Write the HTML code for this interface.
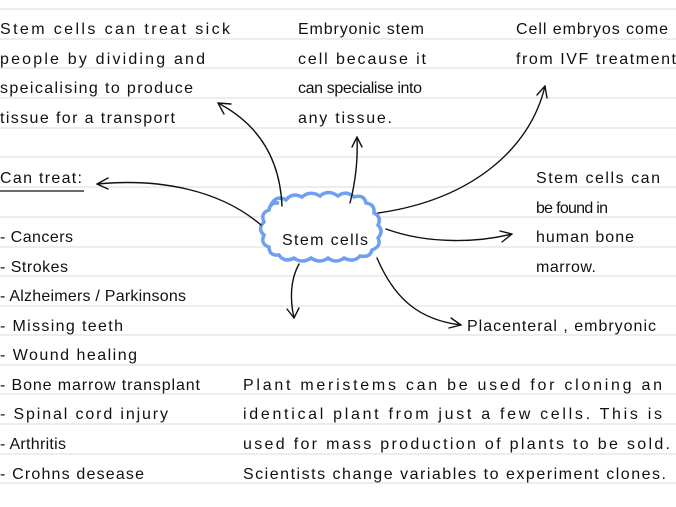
<!DOCTYPE html>
<html><head><style>
html,body{margin:0;padding:0;background:#fff;}
svg{display:block;}
text{font-family:"Liberation Sans",sans-serif;font-size:16px;fill:#111;}
</style></head><body>
<svg width="676" height="507" viewBox="0 0 676 507">
<g stroke="#e2e2e2" stroke-width="1.2">
<line x1="0" x2="676" y1="9" y2="9"/><line x1="0" x2="676" y1="39" y2="39"/><line x1="0" x2="676" y1="68" y2="68"/><line x1="0" x2="676" y1="98" y2="98"/><line x1="0" x2="676" y1="128" y2="128"/><line x1="0" x2="676" y1="157" y2="157"/><line x1="0" x2="676" y1="187" y2="187"/><line x1="0" x2="676" y1="217" y2="217"/><line x1="0" x2="676" y1="247" y2="247"/><line x1="0" x2="676" y1="276" y2="276"/><line x1="0" x2="676" y1="306" y2="306"/><line x1="0" x2="676" y1="335" y2="335"/><line x1="0" x2="676" y1="365" y2="365"/><line x1="0" x2="676" y1="394" y2="394"/><line x1="0" x2="676" y1="424" y2="424"/><line x1="0" x2="676" y1="454" y2="454"/><line x1="0" x2="676" y1="483" y2="483"/>
</g>
<g>
<text x="0" y="34" textLength="230" lengthAdjust="spacing">Stem cells can treat sick</text>
<text x="0" y="64" textLength="205" lengthAdjust="spacing">people by dividing and</text>
<text x="0" y="93" textLength="193" lengthAdjust="spacing">speicalising to produce</text>
<text x="0" y="123" textLength="175" lengthAdjust="spacing">tissue for a transport</text>
<text x="298" y="34" textLength="126" lengthAdjust="spacing">Embryonic stem</text>
<text x="298" y="64" textLength="128" lengthAdjust="spacing">cell because it</text>
<text x="298" y="93" textLength="124" lengthAdjust="spacing">can specialise into</text>
<text x="298" y="123" textLength="94" lengthAdjust="spacing">any tissue.</text>
<text x="516" y="34" textLength="152" lengthAdjust="spacing">Cell embryos come</text>
<text x="516" y="64" textLength="160" lengthAdjust="spacing">from IVF treatment</text>
<text x="536" y="183" textLength="124" lengthAdjust="spacing">Stem cells can</text>
<text x="536" y="213" textLength="72" lengthAdjust="spacing">be found in</text>
<text x="536" y="242" textLength="98" lengthAdjust="spacing">human bone</text>
<text x="536" y="272" textLength="60" lengthAdjust="spacing">marrow.</text>
<text x="0" y="183" textLength="82" lengthAdjust="spacing">Can treat:</text>
<line x1="0" x2="84" y1="191" y2="191" stroke="#111" stroke-width="1.3"/>
<text x="0" y="242" textLength="73" lengthAdjust="spacing">- Cancers</text>
<text x="0" y="272" textLength="68" lengthAdjust="spacing">- Strokes</text>
<text x="0" y="301" textLength="186" lengthAdjust="spacing">- Alzheimers / Parkinsons</text>
<text x="0" y="331" textLength="123" lengthAdjust="spacing">- Missing teeth</text>
<text x="0" y="360" textLength="137" lengthAdjust="spacing">- Wound healing</text>
<text x="0" y="390" textLength="200" lengthAdjust="spacing">- Bone marrow transplant</text>
<text x="0" y="419" textLength="168" lengthAdjust="spacing">- Spinal cord injury</text>
<text x="0" y="449" textLength="66" lengthAdjust="spacing">- Arthritis</text>
<text x="0" y="479" textLength="144" lengthAdjust="spacing">- Crohns desease</text>
<text x="243" y="390" textLength="419" lengthAdjust="spacing">Plant meristems can be used for cloning an</text>
<text x="243" y="419" textLength="419" lengthAdjust="spacing">identical plant from just a few cells. This is</text>
<text x="243" y="449" textLength="427" lengthAdjust="spacing">used for mass production of plants to be sold.</text>
<text x="243" y="479" textLength="423" lengthAdjust="spacing">Scientists change variables to experiment clones.</text>
<text x="467" y="331" textLength="189" lengthAdjust="spacing">Placenteral , embryonic</text>
</g>
<path d="M272 203 q5 -8 14 -3 q6 -8 16 -3 q8 -7 18 -1 q8 -7 18 0 q8 -6 16 1 q10 -3 12 6 q9 1 8 10 q8 4 4 12 q6 6 0 13 q4 8 -6 12 q-2 8 -12 6 q-6 7 -16 2 q-8 6 -16 0 q-8 6 -17 0 q-9 6 -17 0 q-10 5 -15 -3 q-10 1 -10 -8 q-9 -3 -5 -12 q-7 -6 0 -13 q-4 -9 5 -12 q1 -8 10 -7z" fill="#fff" stroke="#6fa0ef" stroke-width="3.5"/>
<text x="282" y="245" textLength="86" lengthAdjust="spacing">Stem cells</text>
<g fill="none" stroke="#111" stroke-width="1.4" stroke-linecap="round">
<path d="M282 206 C280 160 260 125 218 103"/><path d="M218 103 l13 1 M218 103 l6 11"/>
<path d="M261 225 C220 190 160 178 97 184"/><path d="M97 184 l11 -6 M97 184 l11 5"/>
<path d="M350 203 C356 180 358 160 357 137"/><path d="M357 137 l-5 10 M357 137 l5 10"/>
<path d="M378 213 C470 200 530 150 545 86"/><path d="M545 86 l-8 9 M545 86 l2 12"/>
<path d="M386 229 C430 245 480 242 512 234"/><path d="M512 234 l-12 -3 M512 234 l-10 8"/>
<path d="M377 258 C395 300 420 320 461 325"/><path d="M461 325 l-10 -7 M461 325 l-12 3"/>
<path d="M299 264 C290 280 290 300 294 318"/><path d="M294 318 l-7 -9 M294 318 l5 -10"/>
</g>
</svg>
</body></html>
